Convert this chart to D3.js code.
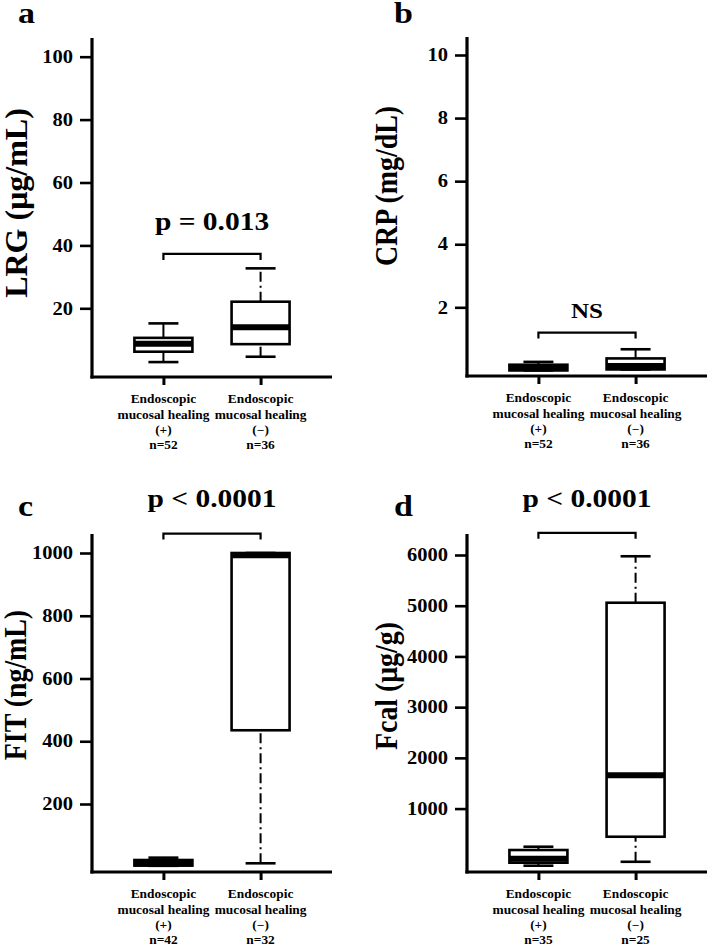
<!DOCTYPE html>
<html><head><meta charset="utf-8">
<script src="https://cdn.jsdelivr.net/npm/d3@7"></script>
<style>
body{margin:0;background:#fff}
svg{display:block}
text{font-family:"Liberation Serif","Times New Roman",Times,serif;font-weight:bold;fill:#000}
</style>
</head><body>
<svg id="chart" width="709" height="948"></svg>
<script>
// ---------------- data ----------------
const groupSigns = ["(+)", "(\u2212)"];
const groupLine1 = "Endoscopic";
const groupLine2 = "mucosal healing";
const panelLetters = ["a", "b", "c", "d"];
const yTitles = ["LRG (\u03bcg/mL)", "CRP (mg/dL)", "FIT (ng/mL)", "Fcal (\u03bcg/g)"];
const nLRG = ["n=52", "n=36"];
const nCRP = ["n=52", "n=36"];
const nFIT = ["n=42", "n=32"];
const nFcal = ["n=35", "n=25"];
const ticksLRG = [20, 40, 60, 80, 100];
const ticksCRP = [2, 4, 6, 8, 10];
const ticksFIT = [200, 400, 600, 800, 1000];
const ticksFcal = [1000, 2000, 3000, 4000, 5000, 6000];
// [min, q1, median, q3, max] for (+) and (-)
const statsLRG = [[2.9, 6.2, 8.7, 10.6, 15.2], [4.6, 8.6, 14.0, 22.1, 32.7]];
const statsCRP = [[0.0, 0.0, 0.07, 0.18, 0.27], [0.03, 0.03, 0.14, 0.38, 0.67]];
const statsFIT = [[3, 3.5, 13, 21.5, 29], [11, 435, 993, 1000, 1000]];
const statsFcal = [[-126, -67, 10, 183, 248], [-49, 445, 1657, 5059, 5975]];
const pTexts = ["p = 0.013", "NS", "p < 0.0001", "p < 0.0001"];
const bracketLevels = [37.3, 1.2, 1062, 6437];

// ---------------- layout ----------------
const SQ = 0.87; // vertical squeeze of the lettering
const layout = [
  {x0: 92, x1: 332, top: 38, bottom: 377, zeroPx: 371.2, topPx: 56.7, letterX: 18, letterY: 23, titleX: 27, titleY: 203, titleSq: 1.0, pSize: 29.5, pGap: 24},
  {x0: 467, x1: 707, top: 37, bottom: 376, zeroPx: 370.4, topPx: 55, letterX: 394, letterY: 23, titleX: 397, titleY: 186, titleSq: SQ, pSize: 25, pGap: 15},
  {x0: 92, x1: 332, top: 534, bottom: 872, zeroPx: 866.75, topPx: 553, letterX: 18, letterY: 515.5, titleX: 26, titleY: 685, titleSq: SQ, pSize: 29.5, pGap: 27},
  {x0: 467, x1: 707, top: 534, bottom: 872, zeroPx: 859.3, topPx: 555, letterX: 394, letterY: 515.7, titleX: 397, titleY: 686, titleSq: SQ, pSize: 29.5, pGap: 26}
];
const panels = [
  {ticks: ticksLRG, stats: statsLRG, ns: nLRG},
  {ticks: ticksCRP, stats: statsCRP, ns: nCRP},
  {ticks: ticksFIT, stats: statsFIT, ns: nFIT},
  {ticks: ticksFcal, stats: statsFcal, ns: nFcal}
];

const svg = d3.select("#chart");

panels.forEach((p, i) => {
  const L = layout[i];
  const g = svg.append("g");
  const tmax = d3.max(p.ticks);
  const y = d3.scaleLinear().domain([0, tmax]).range([L.zeroPx, L.topPx]);
  const x = d3.scalePoint().domain(groupSigns).range([L.x0, L.x1]).padding(0.735);

  // y axis ticks + labels
  const ya = g.append("g").attr("transform", `translate(${L.x0},0)`)
    .call(d3.axisLeft(y).tickValues(p.ticks).tickSize(12).tickPadding(7).tickFormat(d3.format("d")));
  ya.select(".domain").remove();
  ya.attr("font-family", null);
  ya.selectAll(".tick line").attr("stroke", "#000").attr("stroke-width", 2.6);
  ya.selectAll(".tick text").attr("font-size", 20.5)
    .attr("transform", `scale(1,${SQ})`);

  // x axis ticks
  const xa = g.append("g").attr("transform", `translate(0,${L.bottom})`)
    .call(d3.axisBottom(x).tickSize(8).tickFormat(""));
  xa.select(".domain").remove();
  xa.selectAll(".tick line").attr("stroke", "#000").attr("stroke-width", 3);

  // axis lines
  g.append("line").attr("x1", L.x0).attr("x2", L.x0).attr("y1", L.top).attr("y2", L.bottom + 1.5)
    .attr("stroke", "#000").attr("stroke-width", 3.2);
  g.append("line").attr("x1", L.x0 - 1.6).attr("x2", L.x1).attr("y1", L.bottom).attr("y2", L.bottom)
    .attr("stroke", "#000").attr("stroke-width", 3.2);

  // category labels
  groupSigns.forEach((s, k) => {
    const lines = [groupLine1, groupLine2, s, p.ns[k]];
    lines.forEach((t, j) => {
      g.append("text")
        .attr("transform", `translate(${x(s)},${L.bottom + 26.3 + j * 15.3}) scale(1,${SQ})`)
        .attr("text-anchor", "middle").attr("font-size", 13.4).text(t);
    });
  });

  // boxes
  const bw = 58, cw = 30;
  p.stats.forEach((st, k) => {
    const cx = x(groupSigns[k]);
    const [mn, q1, md, q3, mx] = st;
    const dash = k === 1 ? "10,4,2,4" : null;
    g.append("line").attr("x1", cx).attr("x2", cx).attr("y1", y(mn)).attr("y2", y(q1))
      .attr("stroke", "#000").attr("stroke-width", 2).attr("stroke-dasharray", dash);
    g.append("line").attr("x1", cx).attr("x2", cx).attr("y1", y(q3)).attr("y2", y(mx))
      .attr("stroke", "#000").attr("stroke-width", 2).attr("stroke-dasharray", dash);
    [mn, mx].forEach(v => {
      g.append("line").attr("x1", cx - cw / 2).attr("x2", cx + cw / 2).attr("y1", y(v)).attr("y2", y(v))
        .attr("stroke", "#000").attr("stroke-width", 2.6);
    });
    g.append("rect").attr("x", cx - bw / 2).attr("width", bw)
      .attr("y", y(q3)).attr("height", Math.max(0, y(q1) - y(q3)))
      .attr("fill", "#fff").attr("stroke", "#000").attr("stroke-width", 2.6);
    g.append("line").attr("x1", cx - bw / 2).attr("x2", cx + bw / 2).attr("y1", y(md)).attr("y2", y(md))
      .attr("stroke", "#000").attr("stroke-width", 6);
  });

  // significance bracket
  const xa1 = x(groupSigns[0]), xa2 = x(groupSigns[1]);
  const yb = y(bracketLevels[i]);
  g.append("path").attr("d", `M${xa1},${yb + 6}V${yb}H${xa2}V${yb + 6}`)
    .attr("fill", "none").attr("stroke", "#000").attr("stroke-width", 2.2);
  g.append("text")
    .attr("transform", `translate(${(xa1 + xa2) / 2},${yb - L.pGap}) scale(1,${SQ})`)
    .attr("text-anchor", "middle").attr("font-size", L.pSize).text(pTexts[i]);

  // y title
  g.append("text")
    .attr("transform", `translate(${L.titleX},${L.titleY}) scale(1,${L.titleSq}) rotate(-90)`)
    .attr("text-anchor", "middle").attr("font-size", 32).text(yTitles[i]);

  // panel letter
  g.append("text")
    .attr("transform", `translate(${L.letterX},${L.letterY}) scale(1,${SQ})`)
    .attr("font-size", 34).text(panelLetters[i]);
});
</script>
</body></html>
